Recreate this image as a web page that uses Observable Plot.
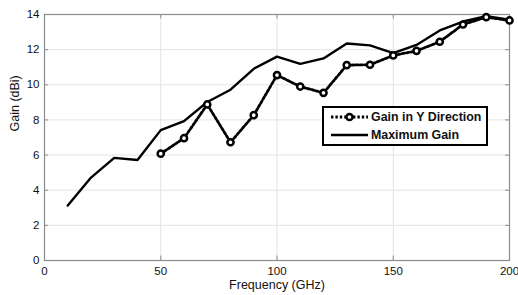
<!DOCTYPE html>
<html>
<head>
<meta charset="utf-8">
<script src="https://cdn.jsdelivr.net/npm/d3@7"></script>
<script src="https://cdn.jsdelivr.net/npm/@observablehq/plot@0.6"></script>
<style>
  html, body { margin: 0; padding: 0; background: #fff; }
  #wrap { position: relative; width: 518px; height: 295px; overflow: hidden; font-family: Arial, "Liberation Sans", sans-serif; }
  #legend { position: absolute; left: 322px; top: 106px; width: 162px; height: 36px; border: 2px solid #000; background: #fff; }
  #legend svg { position: absolute; left: 0; top: 0; }
</style>
</head>
<body>
<div id="wrap"></div>
<script>
const freqMax = [10,20,30,40,50,60,70,80,90,100,110,120,130,140,150,160,170,180,190,200];
const gainMax = [3.13,4.72,5.84,5.72,7.42,7.93,9.02,9.72,10.91,11.6,11.19,11.5,12.35,12.24,11.8,12.27,13.09,13.6,13.9,13.7];
const freqY = [50,60,70,80,90,100,110,120,130,140,150,160,170,180,190,200];
const gainY = [6.08,6.96,8.88,6.73,8.27,10.55,9.9,9.54,11.12,11.14,11.67,11.93,12.45,13.43,13.85,13.66];
const xTicks = [0,50,100,150,200];
const yTicks = [0,2,4,6,8,10,12,14];
const seriesNames = ["Gain in Y Direction", "Maximum Gain"];
const xLabel = "Frequency (GHz)";
const yLabel = "Gain (dBi)";

const maxData = freqMax.map((f,i) => ({f, g: gainMax[i]}));
const yData = freqY.map((f,i) => ({f, g: gainY[i]}));

const tickLenY = 0.25, tickLenX = 1.7;
const font = "Arial, 'Liberation Sans', sans-serif";

const chart = Plot.plot({
  width: 518,
  height: 295,
  marginLeft: 44,
  marginRight: 9,
  marginTop: 14,
  marginBottom: 35,
  style: {fontFamily: font, fontSize: "11.5px", color: "#000", background: "#fff"},
  x: {domain: [0, 200]},
  y: {domain: [0, 14]},
  marks: [
    Plot.gridX(xTicks.slice(1, -1), {stroke: "#e3e3e3", strokeOpacity: 1, strokeWidth: 1}),
    Plot.gridY(yTicks.slice(1, -1), {stroke: "#e3e3e3", strokeOpacity: 1, strokeWidth: 1}),
    Plot.frame({stroke: "#8c8c8c", strokeWidth: 1.2}),
    Plot.ruleX(xTicks, {x: d => d, y1: 0, y2: tickLenY, stroke: "#8c8c8c"}),
    Plot.ruleX(xTicks, {x: d => d, y1: 14, y2: 14 - tickLenY, stroke: "#8c8c8c"}),
    Plot.ruleY(yTicks, {y: d => d, x1: 0, x2: tickLenX, stroke: "#8c8c8c"}),
    Plot.ruleY(yTicks, {y: d => d, x1: 200, x2: 200 - tickLenX, stroke: "#8c8c8c"}),
    Plot.axisX(xTicks, {tickSize: 0, tickPadding: 6, label: null, fontSize: 11.5, fill: "#111"}),
    Plot.axisY(yTicks, {tickSize: 0, tickPadding: 5, label: null, fontSize: 11.5, fill: "#111"}),
    Plot.text([xLabel], {text: d => d, frameAnchor: "bottom", dy: 28, fontSize: 12.5, fill: "#111"}),
    Plot.text([yLabel], {text: d => d, frameAnchor: "left", rotate: -90, dx: -30, dy: -6, fontSize: 12.5, fill: "#111"}),
    Plot.line(maxData, {x: "f", y: "g", stroke: "#000", strokeWidth: 2.4}),
    Plot.line(yData, {x: "f", y: "g", stroke: "#000", strokeWidth: 2.8, strokeDasharray: "2.4,2"}),
    Plot.dot(yData, {x: "f", y: "g", r: 3.1, stroke: "#000", strokeWidth: 2.5, fill: "#fff"})
  ]
});
chart.style.position = "absolute";
chart.style.left = "0px";
chart.style.top = "0px";
chart.style.overflow = "visible";
const wrap = document.getElementById("wrap");
wrap.appendChild(chart);

const legend = document.createElement("div");
legend.id = "legend";
wrap.appendChild(legend);
const svg = d3.select(legend).append("svg").attr("width", 162).attr("height", 36);
svg.append("line").attr("x1", 7).attr("x2", 44).attr("y1", 9).attr("y2", 9)
  .attr("stroke", "#000").attr("stroke-width", 2.8).attr("stroke-dasharray", "2.4,2");
svg.append("circle").attr("cx", 25.5).attr("cy", 9).attr("r", 3.1)
  .attr("stroke", "#000").attr("stroke-width", 2.5).attr("fill", "#fff");
svg.append("line").attr("x1", 7).attr("x2", 44).attr("y1", 27).attr("y2", 27)
  .attr("stroke", "#000").attr("stroke-width", 2.4);
seriesNames.forEach((name, i) => {
  svg.append("text").attr("x", 47).attr("y", 9 + i * 18).attr("dy", "0.36em")
    .attr("font-family", font)
    .attr("font-size", 12.4).attr("font-weight", "bold").attr("fill", "#111")
    .text(name);
});
</script>
</body>
</html>
